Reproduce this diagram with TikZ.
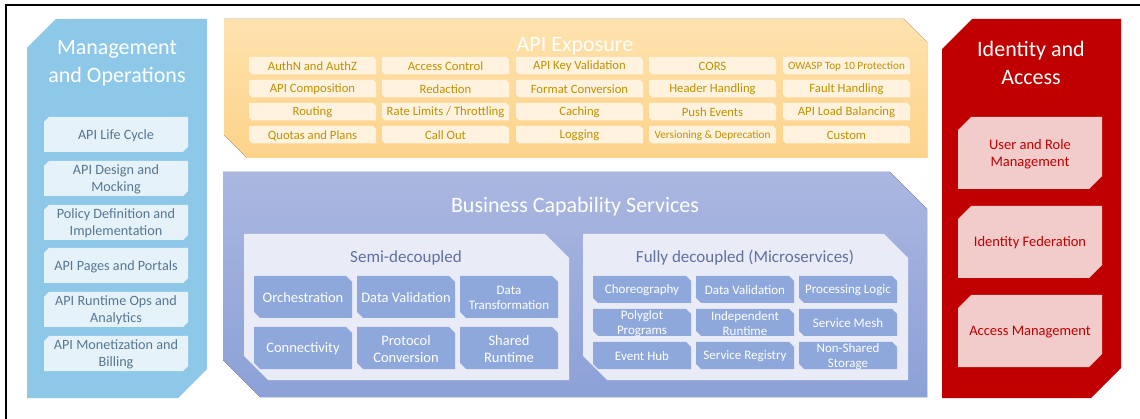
\documentclass[tikz,border=0pt]{standalone}
\usepackage{fontspec}
\setmainfont{Carlito}
\definecolor{mgmtfill}{HTML}{8EC8E8}
\definecolor{mcellfill}{HTML}{E6F2FA}
\definecolor{mtext}{HTML}{557793}
\definecolor{otop}{HTML}{FEE2AE}
\definecolor{obot}{HTML}{FDD389}
\definecolor{ocellfill}{HTML}{FFF3DF}
\definecolor{otext}{HTML}{BF9000}
\definecolor{btop}{HTML}{AAB7E0}
\definecolor{bbot}{HTML}{8CA1D7}
\definecolor{innerfill}{HTML}{E9ECF7}
\definecolor{innertext}{HTML}{6070A0}
\definecolor{bcellfill}{HTML}{8EA8DC}
\definecolor{redfill}{HTML}{C00000}
\definecolor{rcellfill}{HTML}{F2CBCB}
\definecolor{rtext}{HTML}{C00000}
% snipped rectangles: top-left + bottom-right, or top-right + bottom-left
\newcommand\tlbr[6]{\fill[#6] ({#1+#5},#2) -- (#3,#2) -- (#3,{#4-#5}) -- ({#3-#5},#4) -- (#1,#4) -- (#1,{#2+#5}) -- cycle;}
\newcommand\trbl[6]{\fill[#6] (#1,#2) -- ({#3-#5},#2) -- (#3,{#2+#5}) -- (#3,#4) -- ({#1+#5},#4) -- (#1,{#4-#5}) -- cycle;}
\begin{document}
\begin{tikzpicture}[x=1pt,y=-1pt,
  every node/.style={inner sep=0pt, align=center, yshift=-0.8pt},
  ttl/.style={text=white, font=\fontsize{22}{28}\selectfont},
  mtxt/.style={text=mtext, font=\fontsize{14.2}{17}\selectfont},
  otxt/.style={text=otext, font=\fontsize{12.7}{15}\selectfont},
  osmall/.style={font=\fontsize{11.2}{13}\selectfont},
  ititle/.style={text=innertext, font=\fontsize{17}{20}\selectfont},
  stxt/.style={text=white, font=\fontsize{14.5}{17}\selectfont},
  ssmall/.style={font=\fontsize{13}{15}\selectfont},
  ftxt/.style={text=white, font=\fontsize{13}{15}\selectfont},
  rtxt/.style={text=rtext, font=\fontsize{14.5}{17}\selectfont}]
\useasboundingbox (0,0) rectangle (1140,419);
\fill[white] (0,0) rectangle (1140,419);
\draw[line width=2pt] (6,419) -- (6,5.5) -- (1140,5.5);

% ---------- Management and Operations ----------
\newcommand\mcell[3]{\tlbr{44}{#2}{188}{#2+35}{5}{mcellfill}\node[mtxt] (#1) at (116,{#2+17.5}) {#3};}
\tlbr{27}{19}{207}{398}{29}{mgmtfill}
\node[ttl] (mgmt) at (117,62) {Management\\and Operations};
\mcell{m1}{117}{API Life Cycle}
\mcell{m2}{161}{API Design and\\Mocking}
\mcell{m3}{205}{Policy Definition and\\Implementation}
\mcell{m4}{248}{API Pages and Portals}
\mcell{m5}{292}{API Runtime Ops and\\Analytics}
\mcell{m6}{336}{API Monetization and\\Billing}

% ---------- API Exposure ----------
\newcommand\ocell[5][]{\trbl{#3}{#4}{#3+127}{#4+17.5}{3}{ocellfill}\node[otxt,#1] (#2) at ({#3+63.5},{#4+8.75}) {#5};}
\trbl{224}{19}{927}{158}{23}{top color=otop,bottom color=obot}
\node[ttl] (expo) at (575,45) {API Exposure};
\ocell{e11}{249}{57}{AuthN and AuthZ}
\ocell{e12}{382}{57}{Access Control}
\ocell{e13}{516}{57}{API Key Validation}
\ocell{e14}{649}{57}{CORS}
\ocell[osmall]{e15}{783}{57}{OWASP Top 10 Protection}
\ocell{e21}{249}{80}{API Composition}
\ocell{e22}{382}{80}{Redaction}
\ocell{e23}{516}{80}{Format Conversion}
\ocell{e24}{649}{80}{Header Handling}
\ocell{e25}{783}{80}{Fault Handling}
\ocell{e31}{249}{103}{Routing}
\ocell{e32}{382}{103}{Rate Limits / Throttling}
\ocell{e33}{516}{103}{Caching}
\ocell{e34}{649}{103}{Push Events}
\ocell{e35}{783}{103}{API Load Balancing}
\ocell{e41}{249}{126}{Quotas and Plans}
\ocell{e42}{382}{126}{Call Out}
\ocell{e43}{516}{126}{Logging}
\ocell[osmall]{e44}{649}{126}{Versioning \& Deprecation}
\ocell{e45}{783}{126}{Custom}

% ---------- Business Capability Services ----------
\trbl{223}{172}{927}{397}{37}{top color=btop,bottom color=bbot}
\node[ttl] (bcs) at (575,206) {Business Capability Services};
\trbl{244}{234}{569}{380}{24}{innerfill}
\node[ititle] (semi) at (406,257) {Semi-decoupled};
\trbl{583}{234}{908}{380}{24}{innerfill}
\node[ititle] (fully) at (745,257) {Fully decoupled (Microservices)};

\newcommand\scell[5][]{\trbl{#3}{#4}{#3+98}{#4+42}{6}{bcellfill}\node[stxt,#1] (#2) at ({#3+49},{#4+21}) {#5};}
\scell{s11}{254}{276}{Orchestration}
\scell{s12}{357}{276}{Data Validation}
\scell[ssmall]{s13}{460}{276}{Data\\Transformation}
\scell{s21}{254}{327}{Connectivity}
\scell{s22}{357}{327}{Protocol\\Conversion}
\scell{s23}{460}{327}{Shared\\Runtime}

\newcommand\fcell[4]{\trbl{#2}{#3}{#2+98}{#3+27}{5}{bcellfill}\node[ftxt] (#1) at ({#2+49},{#3+13.5}) {#4};}
\fcell{f11}{593}{276}{Choreography}
\fcell{f12}{696}{276}{Data Validation}
\fcell{f13}{799}{276}{Processing Logic}
\fcell{f21}{593}{309}{Polyglot\\Programs}
\fcell{f22}{696}{309}{Independent\\Runtime}
\fcell{f23}{799}{309}{Service Mesh}
\fcell{f31}{593}{342}{Event Hub}
\fcell{f32}{696}{342}{Service Registry}
\fcell{f33}{799}{342}{Non-Shared\\Storage}

% ---------- Identity and Access ----------
\newcommand\rcell[3]{\tlbr{958}{#2}{1102}{#2+72}{13}{rcellfill}\node[rtxt] (#1) at (1030,{#2+36}) {#3};}
\tlbr{942}{19}{1121}{398}{30}{redfill}
\node[ttl] (ida) at (1031,62) {Identity and\\Access};
\rcell{r1}{117}{User and Role\\Management}
\rcell{r2}{206}{Identity Federation}
\rcell{r3}{295}{Access Management}
\end{tikzpicture}
\end{document}
